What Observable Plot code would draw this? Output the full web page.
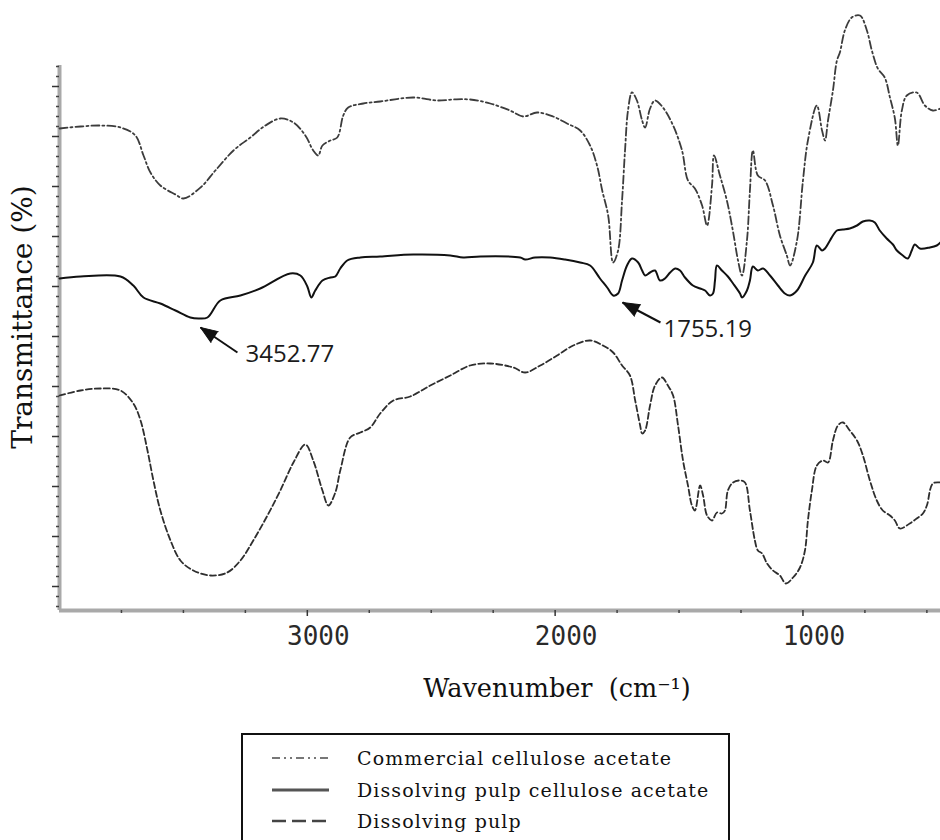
<!DOCTYPE html>
<html>
<head>
<meta charset="utf-8">
<script src="https://cdn.jsdelivr.net/npm/d3@7"></script>
<script src="https://cdn.jsdelivr.net/npm/@observablehq/plot@0.6"></script>
<style>
  body { margin: 0; background: #fff; }
  #wrap { position: relative; width: 940px; height: 840px; overflow: hidden; background: #fff; }
  #chart svg { display: block; }
  g[aria-label="axis-title"] text { letter-spacing: 1.4px; }
  #legend { position: absolute; left: 241px; top: 733px; width: 489px; height: 125px;
            border: 2px solid #111; box-sizing: border-box; background: #fff; }
  #legend .row { position: absolute; left: 0; height: 30px; display: flex; align-items: center; }
  #legend .row span { font-family: "DejaVu Serif", serif; font-size: 19px; letter-spacing: 1.1px; color: #111; margin-left: 28px; }
  #legend svg { margin-left: 29px; }
</style>
</head>
<body>
<div id="wrap">
  <div id="chart"></div>
  <div id="legend"></div>
</div>
<script>
// ---- data ----
const seriesNames = ["Commercial cellulose acetate", "Dissolving pulp cellulose acetate", "Dissolving pulp"];

const commercialW = [4000,3915,3835,3754,3694,3661,3633,3593,3532,3500,3431,3371,3298,3230,3169,3109,3056,3008,2976,2956,2939,2907,2879,2855,2835,2774,2706,2573,2476,2411,2343,2262,2182,2129,2073,2008,1952,1899,1859,1831,1810,1786,1766,1746,1730,1718,1706,1690,1670,1649,1637,1617,1597,1565,1524,1488,1464,1436,1407,1387,1367,1359,1335,1307,1283,1262,1246,1226,1214,1202,1182,1153,1121,1093,1065,1052,1024,1000,980,944,923,911,899,879,863,851,831,803,770,742,722,698,670,649,629,617,601,581,541,508,476,445];
const commercialT = [101.6,102.0,102.2,101.8,100.2,96.2,92.8,90.2,88.4,87.6,89.8,93.2,97.2,99.8,102.2,103.6,102.8,100.2,97.2,96.2,98.2,99.2,99.8,104.2,105.8,106.6,107.0,107.8,107.2,107.4,107.4,106.6,105.2,104.0,104.8,104.0,102.6,101.2,98.2,94.2,89.2,84.2,74.8,77.2,87.2,97.2,105.2,108.8,107.2,103.2,101.8,105.6,107.2,105.8,102.2,97.2,91.2,89.6,86.2,82.2,90.2,96.2,92.2,87.2,81.2,75.2,72.2,79.2,89.2,97.2,92.2,91.2,86.2,80.2,76.2,74.2,79.2,91.2,99.2,106.2,101.2,99.2,103.2,109.2,115.2,116.8,121.2,123.8,124.2,121.2,117.2,113.6,111.8,107.8,103.6,98.2,105.2,108.2,108.8,106.2,105.2,105.6];

const pulpAcetateW = [4000,3915,3754,3702,3661,3593,3532,3472,3439,3403,3351,3270,3190,3069,3028,3000,2984,2968,2939,2907,2887,2867,2839,2786,2706,2573,2423,2371,2302,2141,2121,2081,2020,1960,1899,1859,1819,1790,1766,1746,1730,1710,1690,1665,1649,1637,1617,1597,1577,1557,1536,1516,1496,1476,1444,1415,1395,1375,1363,1355,1347,1327,1303,1282,1254,1246,1226,1214,1202,1182,1161,1133,1101,1073,1052,1024,991,960,944,923,911,891,863,839,811,782,758,730,710,690,662,637,621,597,577,561,549,528,488,460,445];
const pulpAcetateT = [71.6,72.0,72.0,70.2,67.8,66.6,65.2,63.8,63.6,63.8,67.2,68.2,69.6,72.6,72.2,70.0,67.8,69.2,71.2,71.8,72.0,73.6,75.2,75.8,76.0,76.4,76.2,75.8,76.0,75.8,75.4,75.8,75.8,75.4,74.8,74.2,71.6,69.8,68.2,68.6,71.2,74.2,75.6,74.8,73.2,72.2,72.8,73.2,71.2,71.6,72.8,73.6,73.2,71.8,70.2,69.6,69.2,68.2,68.6,71.2,74.2,73.2,72.0,70.6,68.6,67.8,69.2,71.2,74.0,73.2,73.6,72.2,70.2,68.6,68.2,69.2,72.2,74.8,78.2,77.2,77.6,79.2,81.2,81.4,81.6,82.2,83.0,83.2,82.8,81.2,79.6,78.4,77.2,76.2,75.6,77.2,78.4,77.6,77.8,78.2,78.8];

const pulpW = [4000,3915,3835,3754,3702,3673,3645,3621,3593,3552,3512,3460,3391,3323,3270,3218,3161,3109,3056,3008,2976,2939,2915,2887,2867,2827,2786,2746,2706,2653,2585,2504,2423,2343,2262,2169,2121,2060,1992,1927,1859,1807,1766,1730,1698,1677,1657,1649,1637,1617,1597,1569,1545,1524,1504,1484,1464,1448,1436,1415,1403,1387,1367,1347,1327,1315,1303,1282,1254,1234,1214,1194,1182,1165,1145,1121,1093,1069,1040,1012,992,980,964,944,919,899,879,859,839,811,782,758,730,702,678,649,629,609,569,541,516,500,476,445];
const pulpT = [48.2,49.2,49.6,49.2,46.6,43.2,37.2,31.2,25.2,19.2,15.2,13.2,12.2,12.8,15.2,19.2,24.2,29.2,34.8,38.4,35.2,29.2,26.2,28.8,33.2,39.8,40.8,41.8,44.6,47.2,48.0,50.2,52.2,54.2,54.6,53.8,52.8,54.2,56.2,58.2,59.2,58.2,56.8,54.2,52.2,47.2,42.2,40.6,41.2,46.2,50.2,51.8,50.2,48.2,42.2,35.2,30.2,26.2,25.2,30.2,28.2,24.2,23.2,24.8,24.6,25.2,29.2,30.8,31.2,30.8,25.2,19.2,17.2,16.6,14.6,13.2,12.2,10.6,11.8,13.8,17.2,23.2,29.2,34.2,35.2,34.8,39.2,42.2,42.8,41.2,39.2,36.2,31.2,27.2,25.2,24.2,23.2,21.6,22.6,23.6,24.6,26.2,30.6,30.8];

const xMajorTicks = [3000, 2000, 1000];
const xMinorTicks = [3750, 3500, 3250, 2750, 2500, 2250, 1750, 1500, 1250, 750, 500];
const yMajorTicks = [10, 20, 30, 40, 50, 60, 70, 80, 90, 100, 110];
const yMinorTicks = [6,8,12,14,16,18,22,24,26,28,32,34,36,38,42,44,46,48,52,54,56,58,62,64,66,68,72,74,76,78,82,84,86,88,92,94,96,98,102,104,106,108,112,114];
const xTitle = "Wavenumber  (cm\u207B\u00B9)";
const yTitle = "Transmittance (%)";

// peak annotations: label, arrow tip, arrow tail, label anchor
const annLabels = ["3452.77", "1755.19"];
const annTipW = [3431, 1728], annTipT = [61.8, 66.8];
const annTailW = [3282, 1575], annTailT = [56.8, 62.8];
const annTextW = [3249, 1563], annTextT = [56.4, 61.4];
const annAngle = [-56, -62];

// ---- build tables ----
const zipSeries = (W, T) => W.map((w, i) => ({w, t: T[i]}));
const commercial = zipSeries(commercialW, commercialT);
const pulpAcetate = zipSeries(pulpAcetateW, pulpAcetateT);
const pulp = zipSeries(pulpW, pulpT);
const annotations = annLabels.map((label, i) => ({
  label, tipW: annTipW[i], tipT: annTipT[i], tailW: annTailW[i], tailT: annTailT[i],
  textW: annTextW[i], textT: annTextT[i], angle: annAngle[i]
}));

const styles = [
  {stroke: "#3c3c3c", strokeWidth: 1.8, strokeDasharray: "8,3,2,3"},
  {stroke: "#111111", strokeWidth: 2, strokeDasharray: null},
  {stroke: "#2e2e2e", strokeWidth: 1.8, strokeDasharray: "6,3"}
];

const xDomain = [4000, 445];
const yDomain = [5.2, 114.2];

const plot = Plot.plot({
  width: 940,
  height: 720,
  marginLeft: 59,
  marginRight: 0,
  marginTop: 65,
  marginBottom: 110,
  x: {domain: xDomain},
  y: {domain: yDomain},
  style: {background: "#fff", color: "#111", overflow: "visible"},
  marks: [
    // axis lines
    Plot.ruleX([xDomain[0]], {stroke: "#a9a9a9", strokeWidth: 4}),
    Plot.ruleY([yDomain[0]], {stroke: "#a9a9a9", strokeWidth: 4}),
    // ticks
    Plot.axisY({ticks: yMinorTicks, tickSize: 3, fill: "none", label: null, stroke: "#444", strokeWidth: 1.5}),
    Plot.axisY({ticks: yMajorTicks, tickSize: 7, fill: "none", label: null, stroke: "#333", strokeWidth: 1.5}),
    Plot.axisX({ticks: xMinorTicks, tickSize: 3, fill: "none", label: null, stroke: "#444", strokeWidth: 1.5}),
    Plot.axisX({ticks: xMajorTicks, tickSize: 6, fill: "none", label: null, stroke: "#333", strokeWidth: 1.5}),
    // tick labels
    Plot.text(xMajorTicks, {x: d => d, frameAnchor: "bottom", lineAnchor: "middle", textAnchor: "middle",
      dy: 26, dx: 11, text: d => String(d), fontSize: 26, fontFamily: "DejaVu Sans Mono", fill: "#2a2a2a"}),
    // titles
    Plot.text([xTitle], {frameAnchor: "bottom", lineAnchor: "middle", textAnchor: "middle",
      dy: 78, dx: 57, text: d => d, fontSize: 25.5, fontFamily: "DejaVu Serif", fill: "#111", ariaLabel: "axis-title"}),
    Plot.text([yTitle], {frameAnchor: "left", lineAnchor: "middle", textAnchor: "middle", rotate: -90,
      dx: -36, dy: -21, text: d => d, fontSize: 28, fontFamily: "DejaVu Serif", fill: "#111", ariaLabel: "axis-title"}),
    // spectra
    Plot.line(commercial, {x: "w", y: "t", curve: "catmull-rom", ...styles[0]}),
    Plot.line(pulpAcetate, {x: "w", y: "t", curve: "catmull-rom", ...styles[1]}),
    Plot.line(pulp, {x: "w", y: "t", curve: "catmull-rom", ...styles[2]}),
    // annotations
    Plot.link(annotations, {x1: "tailW", y1: "tailT", x2: "tipW", y2: "tipT", stroke: "#111", strokeWidth: 2}),
    Plot.vector(annotations, {x: "tipW", y: "tipT", rotate: "angle", length: 17, r: 6.5, shape: "spike",
      anchor: "end", fill: "#111", stroke: "#111", strokeWidth: 1}),
    Plot.text(annotations, {x: "textW", y: "textT", text: "label", textAnchor: "start", fontSize: 24,
      fontFamily: "Open Sans", fill: "#1b1b1b"})
  ]
});
document.getElementById("chart").appendChild(plot);

// ---- legend ----
const legend = d3.select("#legend");
const rowTops = [8, 40, 71];
seriesNames.forEach((name, i) => {
  const row = legend.append("div").attr("class", "row").style("top", rowTops[i] + "px");
  const svg = row.append("svg").attr("width", 57).attr("height", 10);
  const legendDash = [ "8,4,2,4,2,4", null, "14,6" ][i];
  svg.append("line").attr("x1", 0).attr("x2", 57).attr("y1", 5).attr("y2", 5)
    .attr("stroke", ["#777", "#555", "#444"][i])
    .attr("stroke-width", [2, 3, 2.5][i])
    .attr("stroke-dasharray", legendDash);
  row.append("span").text(name);
});
</script>
</body>
</html>
